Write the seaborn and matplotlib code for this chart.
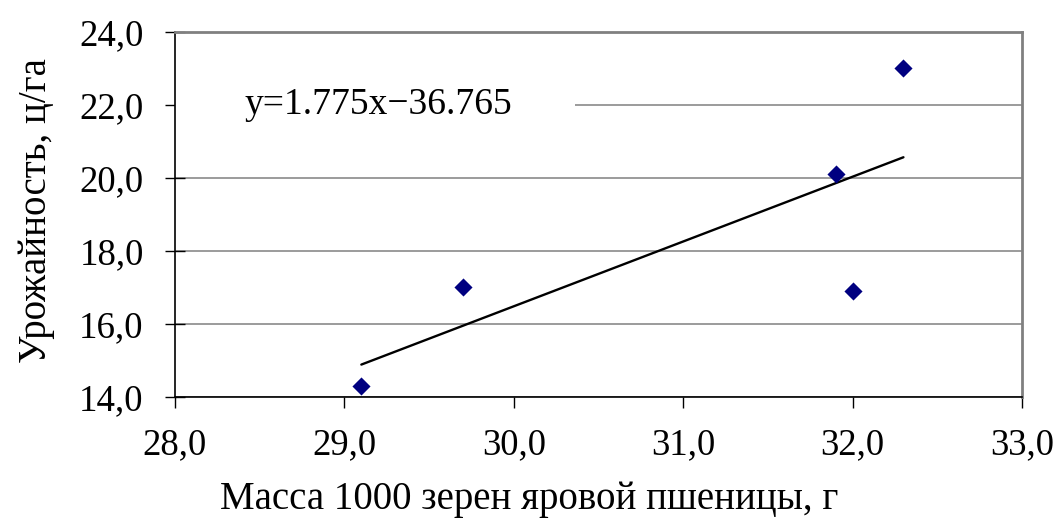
import numpy as np
import pandas as pd
import seaborn as sns
import matplotlib.pyplot as plt
from matplotlib.ticker import FuncFormatter

# data
mass = [29.1, 29.7, 31.9, 32.0, 32.3]
yield_ = [14.3, 17.0, 20.1, 16.9, 23.0]
x_ticks = [28.0, 29.0, 30.0, 31.0, 32.0, 33.0]
y_ticks = [14.0, 16.0, 18.0, 20.0, 22.0, 24.0]
equation = "y=1.775x\u221236.765"

df = pd.DataFrame({"mass": mass, "yield": yield_})

sns.set_style("white")
plt.rcParams["font.family"] = ["Liberation Serif", "DejaVu Serif"]
plt.rcParams["text.color"] = "black"
plt.rcParams["axes.labelcolor"] = "black"

fig = plt.figure(figsize=(10.58, 5.24), dpi=100)
ax = fig.add_axes([0.1654, 0.2424, 0.8006, 0.6966])

sns.regplot(data=df, x="mass", y="yield", ax=ax, ci=None, marker="D",
            scatter_kws={"color": "#000080", "s": 85, "zorder": 4,
                         "linewidths": 0, "alpha": 1},
            line_kws={"color": "black", "lw": 1.7, "zorder": 3})

ax.set_xlim(28, 33)
ax.set_ylim(14, 24)
ax.set_xticks(x_ticks)
ax.set_yticks(y_ticks)
comma = FuncFormatter(lambda v, p: f"{v:.1f}".replace(".", ","))
ax.xaxis.set_major_formatter(comma)
ax.yaxis.set_major_formatter(comma)

ax.set_axisbelow(True)
ax.yaxis.grid(True, color="#808080", lw=1.1)
ax.xaxis.grid(False)

# white box behind the equation hides the gridline
ax.axhspan(21.6, 22.4, xmin=0, xmax=0.472, color="white", zorder=1, lw=0)
ax.text(28.41, 22, equation, fontsize=27, va="center", ha="left",
        color="black", zorder=5)

for s in ["top", "right"]:
    ax.spines[s].set_color("#808080")
    ax.spines[s].set_linewidth(2)
for s in ["left", "bottom"]:
    ax.spines[s].set_color("black")
    ax.spines[s].set_linewidth(1.2)

ax.tick_params(axis="y", direction="inout", length=15, width=1, pad=15,
               labelsize=26.5, left=True, colors="black")
ax.tick_params(axis="x", direction="out", length=8, width=1, pad=14,
               labelsize=26.5, bottom=True, colors="black")

ax.set_xlabel("Масса 1000 зерен яровой пшеницы, г", fontsize=28, color="black")
ax.set_ylabel("Урожайность, ц/га", fontsize=28, color="black")
ax.xaxis.set_label_coords(0.418, -0.23)
ax.yaxis.set_label_coords(-0.142, 0.51)

fig.savefig("out.png", dpi=100)
